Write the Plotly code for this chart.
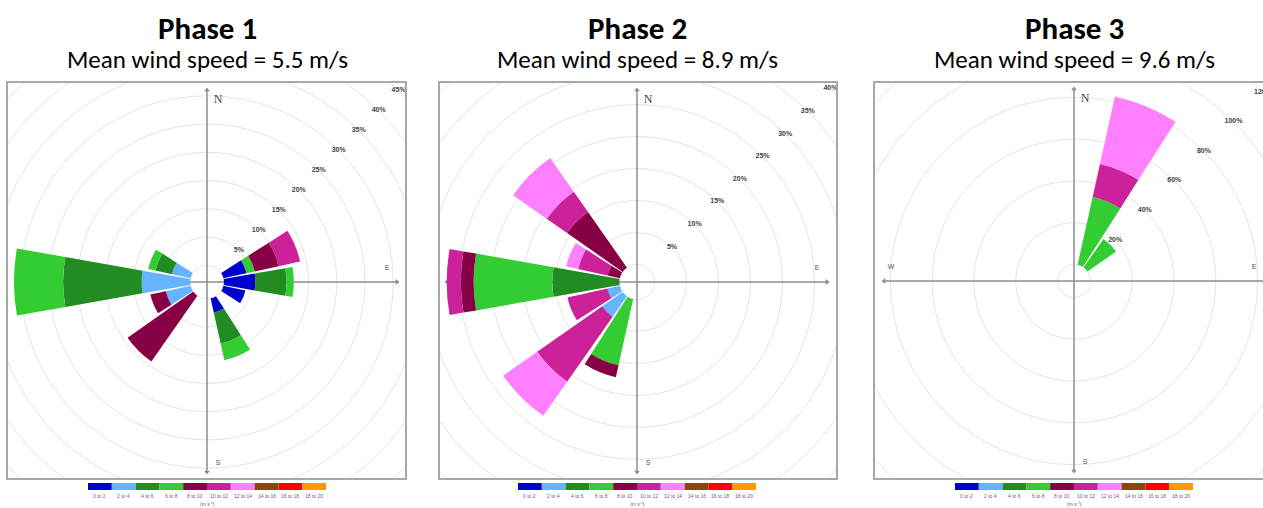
import plotly.graph_objects as go

W, H = 1263, 508

# ---------------- data ----------------
DIRECTIONS = ["N", "NNE", "NE", "ENE", "E", "ESE", "SE", "SSE",
              "S", "SSW", "SW", "WSW", "W", "WNW", "NW", "NNW"]
DIR_DEG = [0, 22.5, 45, 67.5, 90, 112.5, 135, 157.5,
           180, 202.5, 225, 247.5, 270, 292.5, 315, 337.5]

SPEED_BINS = ["0 to 2", "2 to 4", "4 to 6", "6 to 8", "8 to 10",
              "10 to 12", "12 to 14", "14 to 16", "16 to 18", "18 to 20"]
BIN_COLORS = ["#0000CC", "#66B3FF", "#228B22", "#33CC33", "#870045",
              "#CC2299", "#FF80FF", "#8B4513", "#FF0000", "#FF9900"]

TITLES = ["Phase 1", "Phase 2", "Phase 3"]
MEAN_SPEEDS = [5.5, 8.9, 9.6]

# frequency (%) per direction (N..NNW) for each speed bin present
PHASE1 = {
    "0 to 2":   [0, 0, 0, 4.2, 5.6, 4.0, 0, 2.6, 0, 0, 0, 0, 0, 0, 0, 0],
    "2 to 4":   [0, 0, 0, 0, 0, 0, 0, 0, 0, 0, 0, 4.5, 8.6, 3.4, 0, 0],
    "4 to 6":   [0, 0, 0, 0, 5.5, 0, 0, 5.6, 0, 0, 0, 0, 13.9, 3.0, 0, 0],
    "6 to 8":   [0, 0, 0, 1.5, 1.3, 0, 0, 3.0, 0, 0, 0, 0, 8.7, 1.3, 0, 0],
    "8 to 10":  [0, 0, 0, 4.3, 0, 0, 0, 0, 0, 0, 14.2, 2.8, 0, 0, 0, 0],
    "10 to 12": [0, 0, 0, 3.9, 0, 0, 0, 0, 0, 0, 0, 0, 0, 0, 0, 0],
}
PHASE2 = {
    "2 to 4":   [0, 0, 0, 0, 0, 0, 0, 0, 0, 0, 3.9, 2.0, 0, 0, 0, 0],
    "4 to 6":   [0, 0, 0, 0, 0, 0, 0, 0, 0, 0, 0, 0, 10.5, 0, 0, 0],
    "6 to 8":   [0, 0, 0, 0, 0, 0, 0, 0, 0, 10.6, 0, 0, 12.3, 0, 0, 0],
    "8 to 10":  [0, 0, 0, 0, 0, 0, 0, 0, 0, 1.9, 0, 0, 2.0, 2.0, 10.6, 0],
    "10 to 12": [0, 0, 0, 0, 0, 0, 0, 0, 0, 0, 12.4, 6.4, 2.2, 4.7, 3.9, 0],
    "12 to 14": [0, 0, 0, 0, 0, 0, 0, 0, 0, 0, 6.5, 0, 0, 1.9, 6.4, 0],
}
PHASE3 = {
    "6 to 8":   [0, 33.3, 16.7, 0, 0, 0, 0, 0, 0, 0, 0, 0, 0, 0, 0, 0],
    "10 to 12": [0, 16.2, 0, 0, 0, 0, 0, 0, 0, 0, 0, 0, 0, 0, 0, 0],
    "12 to 14": [0, 33.0, 0, 0, 0, 0, 0, 0, 0, 0, 0, 0, 0, 0, 0, 0],
}
PHASE_DATA = [PHASE1, PHASE2, PHASE3]

RING_TICKS = [
    [5, 10, 15, 20, 25, 30, 35, 40, 45],
    [5, 10, 15, 20, 25, 30, 35, 40],
    [20, 40, 60, 80, 100, 120],
]

# ---------------- layout geometry (pixels) ----------------
PANELS = [
    dict(x0=8, x1=405, y0=83, y1=478, cx=207, cy=282, hole=16.75, scale=5.65, R=200, right=True),
    dict(x0=440, x1=836, y0=83, y1=478, cx=637, cy=282, hole=17.5, scale=6.4, R=200, right=True),
    dict(x0=875, x1=1263, y0=83, y1=478, cx=1074, cy=281, hole=16.5, scale=2.09, R=189, right=False),
]

FONT_T = "Carlito, Lato, 'Open Sans', sans-serif"
GRID_C = "#E4E4E4"
AXIS_C = "#8C8C8C"
FRAME_C = "#A8A8A8"

fig = go.Figure()
layout = dict(width=W, height=H, margin=dict(l=0, r=0, t=0, b=0),
              paper_bgcolor="white", plot_bgcolor="rgba(0,0,0,0)",
              showlegend=False)
shapes = []
annotations = []

for i, geo in enumerate(PANELS):
    k = i + 1
    sfx = "" if k == 1 else str(k)
    xa, ya = "x" + sfx, "y" + sfx
    cx, cy = geo["cx"], geo["cy"]
    hole, sc, R = geo["hole"], geo["scale"], geo["R"]

    def rpx(p, hole=hole, sc=sc):
        return hole + sc * p

    # cartesian frame (pixel units, origin at rose centre)
    layout["xaxis" + sfx] = dict(
        domain=[geo["x0"] / W, geo["x1"] / W],
        range=[geo["x0"] - cx, geo["x1"] - cx],
        showgrid=False, zeroline=False, showticklabels=False, ticks="",
        showline=True, mirror=True, linecolor=FRAME_C, linewidth=1.5,
        anchor=ya, fixedrange=True)
    layout["yaxis" + sfx] = dict(
        domain=[1 - geo["y1"] / H, 1 - geo["y0"] / H],
        range=[cy - geo["y1"], cy - geo["y0"]],
        showgrid=False, zeroline=False, showticklabels=False, ticks="",
        showline=True, mirror=geo["right"], linecolor=FRAME_C, linewidth=1.5,
        anchor=xa, fixedrange=True)

    # rings (clipped to the frame)
    radii = [hole] + [rpx(t) for t in RING_TICKS[i]]
    for r in radii:
        shapes.append(dict(type="circle", xref=xa, yref=ya, x0=-r, x1=r, y0=-r, y1=r,
                           line=dict(color=GRID_C, width=1), layer="below"))
    # compass cross
    L = 190
    shapes.append(dict(type="line", xref=xa, yref=ya, x0=-L, x1=L, y0=0, y1=0,
                       line=dict(color=AXIS_C, width=1.5), layer="below"))
    shapes.append(dict(type="line", xref=xa, yref=ya, x0=0, x1=0, y0=-L, y1=L + 2,
                       line=dict(color=AXIS_C, width=1.5), layer="below"))
    fig.add_trace(go.Scatter(
        x=[0, 0, L, -L], y=[L + 2, -L, 0, 0], mode="markers",
        marker=dict(symbol=["triangle-up", "triangle-down", "triangle-right", "triangle-left"],
                    size=5, color=AXIS_C),
        xaxis=xa, yaxis=ya, hoverinfo="skip"))
    # compass letters
    fig.add_trace(go.Scatter(
        x=[11], y=[182], mode="text", text=["N"],
        textfont=dict(family="Liberation Serif, DejaVu Serif, serif", size=12, color="#444"),
        xaxis=xa, yaxis=ya, hoverinfo="skip"))
    fig.add_trace(go.Scatter(
        x=[180, 11, -183], y=[14, -181, 14], mode="text", text=["E", "S", "W"],
        textfont=dict(family="Liberation Sans, Arial, sans-serif", size=7, color="#555"),
        xaxis=xa, yaxis=ya, hoverinfo="skip"))
    # ring labels along the NE diagonal (clipped by frame)
    d = [rpx(t) * 0.7071 for t in RING_TICKS[i]]
    fig.add_trace(go.Scatter(
        x=d, y=d, mode="text", text=[f"<b>{t}%</b>" for t in RING_TICKS[i]],
        textfont=dict(family="Liberation Sans, Arial, sans-serif", size=7, color="#444"),
        cliponaxis=True, xaxis=xa, yaxis=ya, hoverinfo="skip"))

    # polar overlay with stacked wind-rose bars
    pol = "polar" + sfx
    layout[pol] = dict(
        domain=dict(x=[(cx - R) / W, min(1.0, (cx + R) / W)],
                    y=[(H - cy - R) / H, (H - cy + R) / H]),
        bgcolor="rgba(0,0,0,0)", hole=hole / R, barmode="stack",
        radialaxis=dict(range=[0, (R - hole) / sc], visible=False),
        angularaxis=dict(rotation=90, direction="clockwise", showgrid=False,
                         showline=False, showticklabels=False, ticks=""))
    data = PHASE_DATA[i]
    for b, col in zip(SPEED_BINS, BIN_COLORS):
        if b not in data:
            continue
        fig.add_trace(go.Barpolar(
            r=data[b], theta=DIR_DEG, width=20, name=b,
            marker=dict(color=col, line=dict(width=0)),
            subplot=pol, hoverinfo="skip"))

    # titles
    annotations.append(dict(xref="paper", yref="paper", x=cx / W, y=1 - 28 / H,
                            text=f"<b>{TITLES[i]}</b>", showarrow=False,
                            font=dict(family=FONT_T, size=31, color="black"),
                            xanchor="center", yanchor="middle"))
    annotations.append(dict(xref="paper", yref="paper", x=cx / W, y=1 - 59 / H,
                            text=f"Mean wind speed = {MEAN_SPEEDS[i]} m/s", showarrow=False,
                            font=dict(family=FONT_T, size=25, color="black"),
                            xanchor="center", yanchor="middle"))

    # colour key under each rose
    bw = 23.8
    lx0 = cx - bw * len(SPEED_BINS) / 2
    for j, (b, col) in enumerate(zip(SPEED_BINS, BIN_COLORS)):
        shapes.append(dict(type="rect", xref="paper", yref="paper",
                           x0=(lx0 + j * bw) / W, x1=(lx0 + (j + 1) * bw) / W,
                           y0=1 - 490 / H, y1=1 - 483 / H,
                           fillcolor=col, line=dict(width=0)))
        annotations.append(dict(xref="paper", yref="paper", x=(lx0 + (j + 0.5) * bw) / W,
                                y=1 - 496 / H, text=b, showarrow=False,
                                font=dict(family="Liberation Sans, Arial, sans-serif", size=5, color="#666"),
                                xanchor="center", yanchor="middle"))
    annotations.append(dict(xref="paper", yref="paper", x=cx / W, y=1 - 504 / H,
                            text="(m s<sup>-1</sup>)", showarrow=False,
                            font=dict(family="Liberation Sans, Arial, sans-serif", size=5, color="#666"),
                            xanchor="center", yanchor="middle"))

layout["shapes"] = shapes
layout["annotations"] = annotations
fig.update_layout(**layout)
fig.write_html("out.html")
